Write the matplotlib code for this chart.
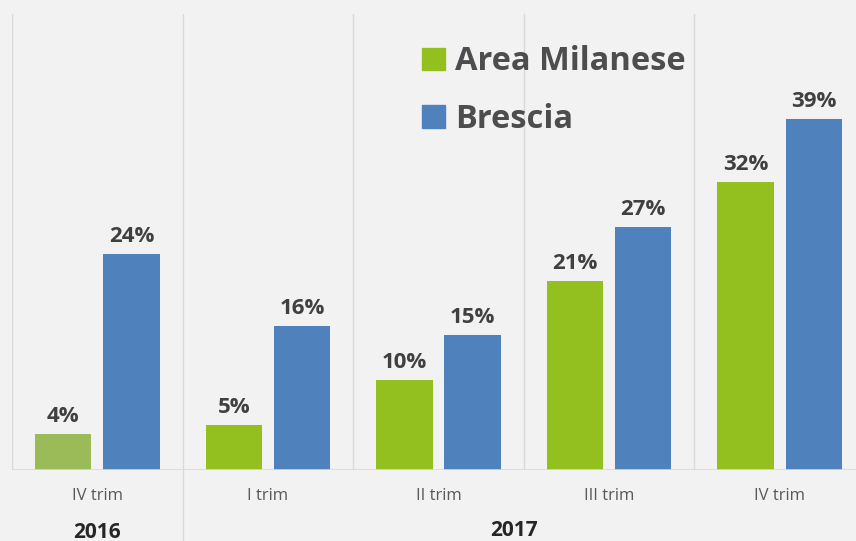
import matplotlib.pyplot as plt
from matplotlib.patches import Patch
from matplotlib.lines import Line2D

plt.rcParams['font.family'] = ['Open Sans', 'DejaVu Sans']

# dati
trimestri = ["IV trim", "I trim", "II trim", "III trim", "IV trim"]
milano = [4, 5, 10, 21, 32]
brescia = [24, 16, 15, 27, 39]
verde = ["#9bbb59", "#93c01f", "#93c01f", "#93c01f", "#93c01f"]
blu = "#4f81bd"

W, H = 856, 541
fig = plt.figure(figsize=(W / 100, H / 100), dpi=100)
fig.patch.set_facecolor("#f2f2f2")

# assi: da x=12 a x=865 (oltre il bordo), da y=14 a y=470
ax = fig.add_axes([12 / W, 1 - 470 / H, 853 / W, 456 / H])
ax.set_facecolor("#f2f2f2")
ax.set_xlim(-0.5, 4.5)
ax.set_ylim(0, 456 / 9.0)
for s in ax.spines.values():
    s.set_visible(False)
ax.set_yticks([])
ax.set_xticks([])

x = list(range(len(trimestri)))
xm = [i - 0.2 for i in x]
xb = [i + 0.2 for i in x]
ax.bar(xm, milano, width=0.33, color=verde, zorder=3)
ax.bar(xb, brescia, width=0.33, color=blu, zorder=3)

# etichette valori
for xi, v in zip(xm + xb, milano + brescia):
    ax.text(xi, v + 1.35, f"{v}%", ha="center", va="baseline", fontsize=16,
            fontweight="bold", color="#404040")

# griglia verticale e linea di base
for b in [-0.5, 0.5, 1.5, 2.5, 3.5, 4.5]:
    ax.axvline(b, color="#d9d9d9", lw=1, zorder=1)
ax.axhline(0, color="#d9d9d9", lw=1.2, zorder=4)
# separatore 2016 / 2017 fino in fondo
ax.add_line(Line2D([0.5, 0.5], [-0.2, 0], transform=ax.get_xaxis_transform(),
                   color="#d9d9d9", lw=1, clip_on=False))

# etichette categorie
for xi, t in zip(x, trimestri):
    ax.text(xi, -0.057, t, transform=ax.get_xaxis_transform(), ha="center",
            va="center", fontsize=12, color="#595959")

fig.text(97 / W, 1 - 532 / H, "2016", ha="center", va="center", fontsize=15,
         fontweight="bold", color="#262626")
fig.text(514 / W, 1 - 530 / H, "2017", ha="center", va="center", fontsize=15,
         fontweight="bold", color="#262626")

# legenda
handles = [Patch(color="#93c01f", label="Area Milanese"),
           Patch(color=blu, label="Brescia")]
fig.legend(handles=handles, loc="upper left", bbox_to_anchor=(393 / W, 1 - 16 / H),
           frameon=False, prop={"size": 23.5, "weight": "bold"}, labelcolor="#4d4d4d",
           handlelength=0.7, handleheight=0.7, handletextpad=0.3, labelspacing=0.75)

fig.savefig("out.png", dpi=100, facecolor=fig.get_facecolor())
